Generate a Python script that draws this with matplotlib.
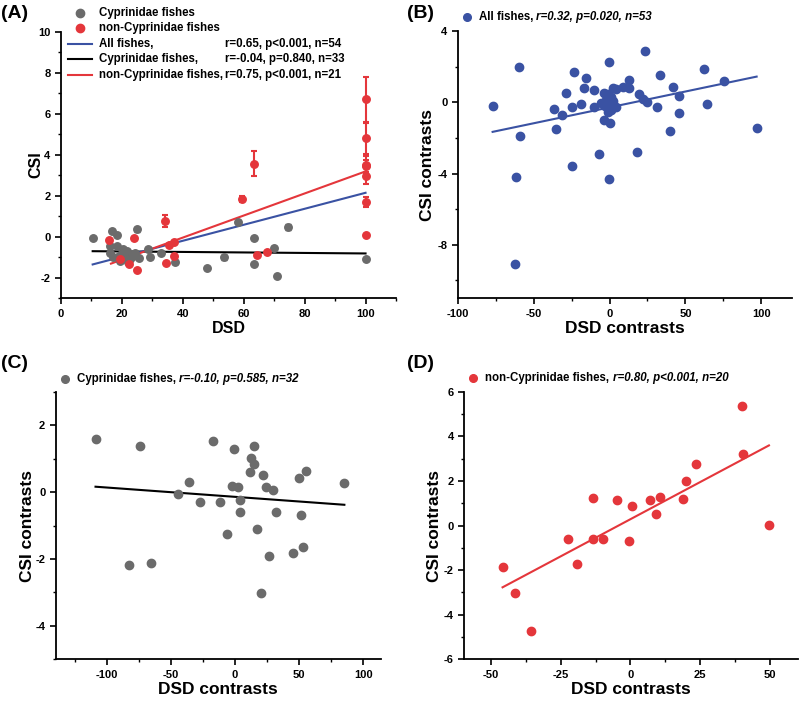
#!/usr/bin/env python3
"""Redraw the four-panel DSD vs CSI figure (raw values and contrasts)."""

import matplotlib

matplotlib.use("Agg")
import matplotlib.pyplot as plt
import numpy as np
from matplotlib.lines import Line2D
from matplotlib.ticker import MultipleLocator

plt.rcParams["font.family"] = ["Liberation Sans", "DejaVu Sans"]
plt.rcParams["font.weight"] = "bold"
plt.rcParams["axes.unicode_minus"] = False

GREY = "#6b6b6b"
RED = "#e4363b"
BLUE = "#3a52a3"

# ---- panel A: raw values ----
cyp_dsd = [10.4, 16.8, 18.3, 24.8, 16.0, 18.5, 20.5, 17.2, 18.9, 21.0, 22.7, 23.8, 24.4,
           28.7, 29.3, 32.9, 37.3, 47.9, 53.4, 58.0, 63.3, 63.3, 70.0, 71.0, 74.5, 100.0,
           20.0, 21.7, 23.2, 19.4, 16.1, 22.0, 25.5]
cyp_csi = [-0.06, 0.30, 0.10, 0.36, -0.45, -0.45, -0.60, -1.00, -0.95, -0.95, -1.10, -0.95, -0.80,
           -0.60, -1.00, -0.80, -1.25, -1.50, -1.00, 0.72, -0.08, -1.35, -0.53, -1.90, 0.47, -1.10,
           -0.78, -0.70, -0.85, -1.20, -0.78, -1.25, -1.05]
cyp_err = [0.05, 0.08, 0.06, 0.12, 0.05, 0.05, 0.05, 0.05, 0.05, 0.05, 0.05, 0.05, 0.05,
           0.08, 0.08, 0.05, 0.08, 0.05, 0.12, 0.10, 0.05, 0.05, 0.08, 0.05, 0.15, 0.05,
           0.05, 0.05, 0.05, 0.05, 0.05, 0.05, 0.05]

non_dsd = [15.8, 24.1, 22.2, 24.9, 34.2, 34.4, 35.3, 37.2, 37.2, 59.4, 63.5, 64.5, 67.6,
           100.0, 100.0, 100.0, 100.0, 100.0, 100.0, 100.0, 19.5]
non_csi = [-0.16, -0.06, -1.35, -1.62, 0.76, -1.27, -0.40, -0.26, -0.94, 1.86, 3.57, -0.91, -0.73,
           6.71, 4.81, 3.52, 3.45, 2.95, 1.70, 0.08, -1.10]
non_err = [0.05, 0.05, 0.05, 0.05, 0.30, 0.05, 0.05, 0.05, 0.05, 0.15, 0.60, 0.05, 0.05,
           1.10, 0.75, 0.40, 0.30, 0.40, 0.25, 0.05, 0.05]

# fitted lines: (x start, x end, intercept, slope)
fit_all = (10.4, 100.0, -1.755, 0.0390)
fit_cyp = (10.4, 100.0, -0.690, -0.00123)
fit_non = (16.4, 100.0, -2.192, 0.0538)

# ---- panel B: all fishes contrasts ----
all_dx = [-77.0, -59.8, -58.7, -61.6, -62.0, -36.5, -35.4, -31.2, -28.4, -24.6, -24.6, -23.7,
          -18.9, -16.7, -15.2, -10.1, -10.1, -6.8, -5.3, -3.7, -3.5, -3.1, -2.0, -1.3, -0.2,
          -0.2, 0.4, 0.7, 1.1, 2.0, 2.4, 4.0, 4.4, 9.0, 12.7, 13.0, 18.0, 19.3, 23.3, 22.2,
          25.0, 31.4, 33.0, 39.8, 41.5, 45.7, 45.9, 62.2, 64.4, 75.6, 96.9, -1.5, -1.1]
all_dy = [-0.22, 1.98, -1.91, -4.22, -9.08, -0.36, -1.51, -0.71, 0.50, -0.26, -3.57, 1.72,
          -0.07, 0.80, 1.36, 0.69, -0.24, -2.93, -0.06, 0.54, -1.01, -0.21, 0.13, 0.47, 2.24,
          -4.28, -1.18, -0.43, 0.28, 0.09, 0.79, -0.26, 0.73, 0.84, 1.25, 0.82, -2.78, 0.47,
          2.90, 0.17, 0.04, -0.26, 1.55, -1.59, 0.88, 0.37, -0.62, 1.87, -0.09, 1.21, -1.44,
          -0.11, -0.52]
fit_b = (-77.0, 96.9, -0.287, 0.01783)

# ---- panel C: Cyprinidae contrasts ----
cyp_dx = [-108.9, -74.2, -82.8, -65.6, -35.7, -44.8, -27.1, -16.9, -11.5, -6.5, -2.6, -0.5,
          2.6, 3.9, 3.9, 11.7, 12.5, 14.6, 14.8, 17.4, 20.3, 22.1, 24.5, 26.3, 29.4, 31.8,
          45.1, 49.7, 51.6, 53.4, 55.5, 85.4]
cyp_dy = [1.58, 1.39, -2.19, -2.12, 0.30, -0.06, -0.30, 1.52, -0.30, -1.26, 0.19, 1.29,
          0.14, -0.25, -0.59, 0.59, 1.02, 0.85, 1.39, -1.10, -3.03, 0.51, 0.16, -1.90, 0.06,
          -0.59, -1.82, 0.42, -0.69, -1.63, 0.62, 0.26]
fit_c = (-108.9, 85.4, -0.143, -0.00278)

# ---- panel D: non-Cyprinidae contrasts ----
non_dx = [-45.8, -41.4, -35.6, -22.3, -19.3, -13.5, -13.5, -10.0, -4.8, -0.4, 0.7, 7.1,
          9.0, 10.5, 18.8, 20.0, 23.5, 39.8, 40.4, 49.6]
non_dy = [-1.85, -3.01, -4.74, -0.62, -1.74, 1.22, -0.61, -0.61, 1.14, -0.68, 0.87, 1.16,
          0.50, 1.28, 1.20, 2.01, 2.76, 5.36, 3.19, 0.02]
fit_d = (-45.8, 49.6, 0.283, 0.0667)

W, H = 799, 702
LEG_FS = 8.3


def px_axes(fig, left, top, right, bottom):
    return fig.add_axes([left / W, 1 - bottom / H, (right - left) / W, (bottom - top) / H])


def style(ax, xlim, ylim, xmaj, xmin, ymaj, ymin):
    ax.set_xlim(*xlim)
    ax.set_ylim(*ylim)
    for side in ("top", "right"):
        ax.spines[side].set_visible(False)
    for side in ("left", "bottom"):
        ax.spines[side].set_linewidth(1.3)
    ax.xaxis.set_major_locator(MultipleLocator(xmaj))
    ax.xaxis.set_minor_locator(MultipleLocator(xmin))
    ax.yaxis.set_major_locator(MultipleLocator(ymaj))
    ax.yaxis.set_minor_locator(MultipleLocator(ymin))
    ax.tick_params(which="major", direction="out", length=4, width=1.2, labelsize=8)
    ax.tick_params(which="minor", direction="out", length=2.5, width=1.0)
    for lab in ax.get_xticklabels() + ax.get_yticklabels():
        lab.set_fontweight("bold")


def fit_line(ax, fit, color):
    x0, x1, b0, b1 = fit
    xs = np.array([x0, x1])
    ax.plot(xs, b0 + b1 * xs, color=color, lw=1.5, zorder=2)


def stat_legend(fig, mx, my, color, name, stats):
    fig.add_artist(Line2D([mx / W], [1 - my / H], marker="o", ms=5.5, color=color, ls="none"))
    t1 = fig.text((mx + 12) / W, 1 - my / H, name, fontsize=LEG_FS, fontweight="bold", va="center")
    plt.annotate(stats, xy=(1, 0.5), xycoords=t1, va="center", ha="left", fontsize=LEG_FS,
                 fontweight="bold", fontstyle="italic")


fig = plt.figure(figsize=(W / 100, H / 100), dpi=100)

# panel A
axA = px_axes(fig, 61, 31.7, 396, 298.3)
style(axA, (0, 110), (-3, 10), 20, 10, 2, 1)
axA.errorbar(cyp_dsd, cyp_csi, yerr=cyp_err, fmt="o", color=GREY, ms=5.4, capsize=2,
             elinewidth=1.2, zorder=3)
axA.errorbar(non_dsd, non_csi, yerr=non_err, fmt="o", color=RED, ms=5.4, capsize=2,
             elinewidth=1.5, capthick=1.5, zorder=4)
fit_line(axA, fit_cyp, "black")
fit_line(axA, fit_all, BLUE)
fit_line(axA, fit_non, RED)
axA.set_xlabel("DSD", fontsize=11.5, fontweight="bold", labelpad=2)
axA.set_ylabel("CSI", fontsize=11.5, fontweight="bold", labelpad=-4)

leg_rows = [12.7, 28.0, 43.7, 59.3, 74.7]
fig.add_artist(Line2D([80 / W], [1 - leg_rows[0] / H], marker="o", ms=6, color=GREY, ls="none"))
fig.add_artist(Line2D([80 / W], [1 - leg_rows[1] / H], marker="o", ms=6, color=RED, ls="none"))
for row, col in zip(leg_rows[2:], [BLUE, "black", RED]):
    fig.add_artist(Line2D([68 / W, 92 / W], [1 - row / H] * 2, color=col, lw=1.5))
leg_names = ["Cyprinidae fishes", "non-Cyprinidae fishes", "All fishes,",
             "Cyprinidae fishes,", "non-Cyprinidae fishes,"]
leg_stats = ["", "", "r=0.65, p<0.001, n=54", "r=-0.04, p=0.840, n=33", "r=0.75, p<0.001, n=21"]
for row, name, st in zip(leg_rows, leg_names, leg_stats):
    fig.text(99 / W, 1 - row / H, name, fontsize=LEG_FS, fontweight="bold", va="center")
    if st:
        fig.text(225 / W, 1 - row / H, st, fontsize=LEG_FS, fontweight="bold", va="center")

# panel B
axB = px_axes(fig, 457.7, 31, 791.7, 298.3)
style(axB, (-100, 120), (-11, 4), 50, 25, 4, 2)
axB.plot(all_dx, all_dy, "o", color=BLUE, ms=6, zorder=3)
fit_line(axB, fit_b, BLUE)
axB.set_xlabel("DSD contrasts", fontsize=12.5, fontweight="bold", labelpad=2)
axB.set_ylabel("CSI contrasts", fontsize=12.5, fontweight="bold", labelpad=2)
stat_legend(fig, 466.7, 17.3, BLUE, "All fishes, ", "r=0.32, p=0.020, n=53")

# panel C
axC = px_axes(fig, 55.7, 391.7, 381, 659.3)
style(axC, (-140, 114), (-5, 3), 50, 25, 2, 1)
axC.plot(cyp_dx, cyp_dy, "o", color=GREY, ms=6, zorder=3)
fit_line(axC, fit_c, "black")
axC.set_xlabel("DSD contrasts", fontsize=12.5, fontweight="bold", labelpad=2)
axC.set_ylabel("CSI contrasts", fontsize=12.5, fontweight="bold", labelpad=0.5)
stat_legend(fig, 65, 379, GREY, "Cyprinidae fishes, ", "r=-0.10, p=0.585, n=32")

# panel D
axD = px_axes(fig, 464.3, 391.7, 798, 659.3)
style(axD, (-59.5, 60), (-6, 6), 25, 12.5, 2, 1)
axD.plot(non_dx, non_dy, "o", color=RED, ms=6, zorder=3)
fit_line(axD, fit_d, RED)
axD.set_xlabel("DSD contrasts", fontsize=12.5, fontweight="bold", labelpad=2)
axD.set_ylabel("CSI contrasts", fontsize=12.5, fontweight="bold", labelpad=1.5)
stat_legend(fig, 473.3, 378.3, RED, "non-Cyprinidae fishes, ", "r=0.80, p<0.001, n=20")

for lab, x, y in [("(A)", 1, 13), ("(B)", 407, 13), ("(C)", 1, 363), ("(D)", 407, 363)]:
    fig.text(x / W, 1 - y / H, lab, fontsize=14, fontweight="bold", va="center")

fig.savefig("out.png", dpi=100)
